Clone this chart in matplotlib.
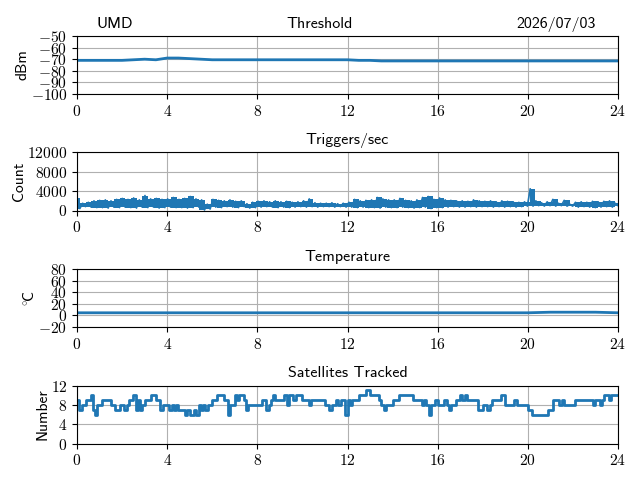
import numpy as np
import matplotlib
matplotlib.use("Agg")
import matplotlib.pyplot as plt
from matplotlib.ticker import FuncFormatter

plt.rcParams['mathtext.fontset'] = 'cm'

# Threshold (dBm), every half hour
thresh = [-71, -71, -71, -71, -71, -70.5, -70, -70.5, -69, -69, -69.5, -70,
          -70.5, -70.5, -70.5, -70.5, -70.5, -70.5, -70.5, -70.5, -70.5, -70.5, -70.5, -70.5,
          -70.5, -71, -71, -71.5, -71.5, -71.5, -71.5, -71.5, -71.5, -71.5, -71.5, -71.5,
          -71.5, -71.5, -71.5, -71.5, -71.5, -71.5, -71.5, -71.5, -71.5, -71.5, -71.5, -71.5, -71.5]

# Triggers/sec, upper and lower envelope every 15 minutes
trig_hi = [2600, 1500, 1700, 2000, 2100, 2200, 2000, 2300, 2500, 2300, 2600, 2200,
           3100, 2400, 2500, 2300, 2400, 2700, 2300, 2500, 2900, 2400, 2200, 1300,
           2300, 2100, 2000, 2200, 1900, 2000, 1400, 1700, 1900, 2000, 1800, 2000,
           1800, 1900, 1700, 1800, 2000, 2400, 1600, 1500, 1500, 1600, 1400, 1500,
           1700, 2300, 2000, 2100, 2200, 2700, 2400, 2200, 2200, 2500, 2100, 2000,
           2200, 2700, 2900, 2300, 2600, 2200, 2100, 2000, 2000, 1900, 2200, 2000,
           1900, 2000, 1800, 2000, 1900, 1800, 1700, 1800, 4500, 2000, 1600, 1800,
           2300, 1500, 2100, 1300, 1700, 1800, 1700, 1900, 1800, 1900, 2000, 1500]
trig_lo = [400, 800, 700, 600, 600, 500, 700, 600, 700, 600, 500, 700,
           600, 700, 500, 600, 700, 600, 600, 500, 600, 700, 100, 300,
           700, 600, 800, 700, 600, 800, 500, 600, 700, 800, 700, 600,
           700, 600, 700, 800, 700, 800, 700, 800, 800, 700, 800, 700,
           700, 600, 700, 600, 600, 500, 700, 600, 600, 700, 600, 500,
           600, 700, 400, 600, 600, 700, 800, 700, 700, 800, 700, 800,
           800, 700, 800, 700, 800, 700, 800, 900, 900, 1000, 900, 1000,
           900, 1000, 900, 900, 700, 800, 700, 600, 700, 800, 700, 1000]

# Temperature (C), hourly
temp = [4.5, 4.5, 4.5, 4.5, 4.5, 4.5, 4.5, 4.5, 4.5, 4.5, 4.5, 4.5, 4.5,
        4.5, 4.5, 4.5, 4.5, 4.5, 4.5, 4.5, 4.5, 5.5, 5.5, 5.5, 4.5]

# Satellites tracked, every 6 minutes
sats = [9, 7, 8, 8, 9, 9, 10, 7, 6, 8,
        8, 9, 9, 9, 9, 8, 8, 7, 7, 8,
        8, 7, 8, 9, 9, 10, 7, 9, 7, 8,
        9, 9, 9, 10, 10, 9, 9, 7, 8, 8,
        8, 7, 8, 7, 8, 7, 7, 7, 6, 7,
        6, 6, 7, 6, 8, 7, 8, 7, 8, 8,
        9, 9, 10, 10, 10, 9, 9, 6, 8, 8,
        10, 9, 10, 10, 9, 7, 8, 8, 8, 8,
        8, 8, 9, 9, 7, 8, 9, 10, 9, 9,
        9, 9, 10, 8, 10, 10, 9, 10, 10, 10,
        9, 9, 9, 8, 9, 9, 9, 9, 9, 9,
        8, 8, 7, 8, 8, 9, 8, 9, 9, 6,
        9, 8, 9, 9, 9, 10, 10, 10, 11, 11,
        10, 10, 10, 10, 9, 8, 7, 8, 8, 8,
        9, 9, 9, 10, 10, 10, 10, 10, 10, 9,
        9, 9, 9, 8, 9, 8, 6, 8, 8, 9,
        8, 8, 8, 9, 8, 7, 8, 8, 9, 9,
        10, 9, 10, 9, 9, 9, 9, 9, 7, 7,
        8, 8, 7, 8, 9, 9, 9, 9, 10, 10,
        8, 8, 8, 8, 9, 8, 8, 8, 8, 8,
        7, 7, 6, 6, 6, 6, 6, 6, 6, 7,
        7, 9, 9, 9, 8, 9, 8, 8, 8, 8,
        8, 9, 9, 9, 9, 9, 9, 9, 9, 8,
        9, 9, 8, 9, 10, 10, 9, 10, 10, 10]

site = "UMD"
date = "2026/07/03"
hours = [0, 4, 8, 12, 16, 20, 24]

fs = 11.2
tfs = 11.5
sans = 'cmss10'
blue = '#1f77b4'
fmt = FuncFormatter(lambda v, p: '$%g$' % v)

fig = plt.figure(figsize=(6.4, 4.8), dpi=100)
tops = [36, 152.5, 269, 385.5]
axes = []
for t in tops:
    ax = fig.add_axes([77 / 640, 1 - (t + 58) / 480, 541 / 640, 58 / 480])
    axes.append(ax)

# header line
fig.text(0.15, 0.941, site, family=sans, fontsize=tfs, ha='left', va='baseline')
fig.text(0.5, 0.941, 'Threshold', family=sans, fontsize=tfs, ha='center', va='baseline')
fig.text(0.931, 0.941, date, family=sans, fontsize=tfs, ha='right', va='baseline')

# threshold
ax = axes[0]
ax.plot(np.linspace(0, 24, len(thresh)), thresh, color=blue, lw=2)
ax.set_ylim(-100, -50)
ax.set_yticks([-100, -90, -80, -70, -60, -50])
ax.set_ylabel('dBm', family=sans, fontsize=fs, labelpad=1)

# triggers
ax = axes[1]
tx = np.linspace(0, 24, len(trig_hi))
ax.fill_between(tx, trig_lo, trig_hi, step='mid', color=blue, lw=0)
trig = np.empty(2 * len(trig_hi))
trig[0::2] = trig_hi
trig[1::2] = trig_lo
ax.plot(np.linspace(0, 24, len(trig)), trig, color=blue, lw=1.2)
ax.set_ylim(0, 12000)
ax.set_yticks([0, 4000, 8000, 12000])
ax.set_ylabel('Count', family=sans, fontsize=fs, labelpad=1)
ax.set_title('Triggers/sec', family=sans, fontsize=tfs)

# temperature
ax = axes[2]
ax.plot(np.linspace(0, 24, len(temp)), temp, color=blue, lw=2)
ax.set_ylim(-20, 80)
ax.set_yticks([-20, 0, 20, 40, 60, 80])
ax.set_ylabel(r'${}^{\circ}\!\mathsf{C}$', fontsize=fs, labelpad=1)
ax.set_title('Temperature', family=sans, fontsize=tfs)

# satellites
ax = axes[3]
sx = np.arange(len(sats) + 1) * 24 / len(sats)
ax.step(sx, sats + [sats[-1]], where='post', color=blue, lw=2)
ax.set_ylim(0, 12)
ax.set_yticks([0, 4, 8, 12])
ax.set_ylabel('Number', family=sans, fontsize=fs, labelpad=1)
ax.set_title('Satellites Tracked', family=sans, fontsize=tfs)

for ax in axes:
    ax.set_xlim(0, 24)
    ax.set_xticks(hours)
    ax.xaxis.set_major_formatter(fmt)
    ax.yaxis.set_major_formatter(fmt)
    ax.tick_params(labelsize=fs)
    ax.grid(True, color='#b0b0b0', lw=0.8)
    ax.set_axisbelow(True)

fig.savefig('out.png', dpi=100)
